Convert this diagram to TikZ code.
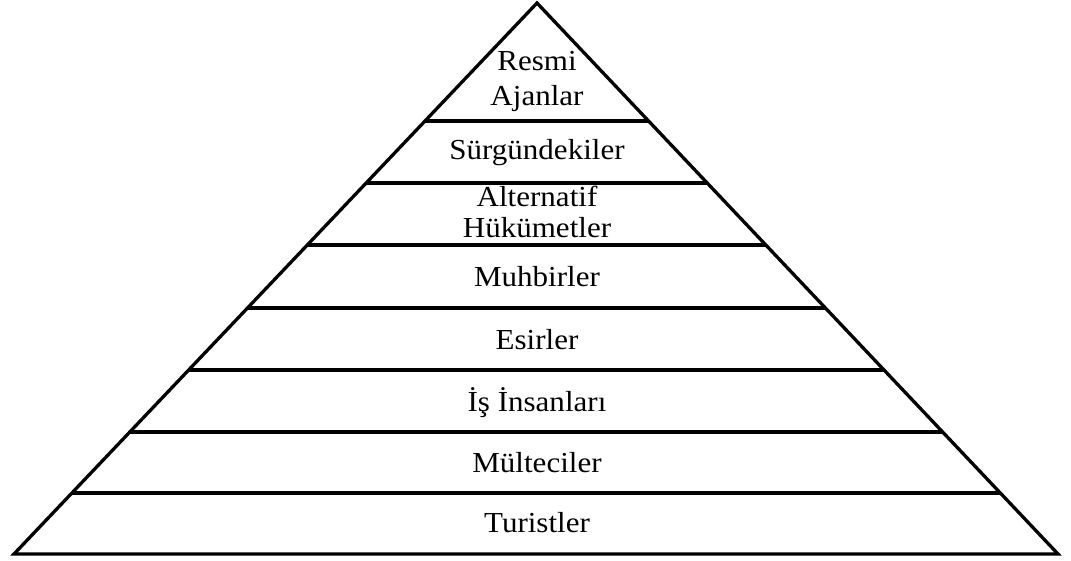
\documentclass[tikz,border=0pt]{standalone}
\usepackage{fontspec}
\setmainfont{Liberation Serif}
\usetikzlibrary{calc}

\begin{document}
\begin{tikzpicture}[x=1pt, y=-1pt,
      edge/.style={draw=black, line width=3.3pt},
      layer/.style={font=\fontsize{29}{31}\selectfont, align=center, inner sep=0pt,
                    xscale=1.07, transform shape}]
    \useasboundingbox (0,0) rectangle (1071,560);
    \coordinate (top) at (537,3);
    \coordinate (bl) at (14,554);
    \coordinate (br) at (1058,554);
    \draw[edge] (bl) -- (top) -- (br) -- cycle;
    % layer borders
    \foreach \t in {0.214, 0.3267, 0.439, 0.5535, 0.666, 0.7786, 0.889}
      \draw[edge] ($(top)!\t!(bl)$) -- ($(top)!\t!(br)$);
    \node[layer] (resmi) at (537,81) {Resmi\\[4pt]Ajanlar};
    \node[layer] (surgun) at (537,153) {Sürgündekiler};
    \node[layer] (alternatif) at (537,212) {Alternatif\\Hükümetler};
    \node[layer] (muhbir) at (537,277) {Muhbirler};
    \node[layer] (esir) at (537,340) {Esirler};
    \node[layer] (is) at (537,403) {İş İnsanları};
    \node[layer] (multeci) at (537,463) {Mülteciler};
    \node[layer] (turist) at (537,523) {Turistler};
  \end{tikzpicture}
\end{document}
